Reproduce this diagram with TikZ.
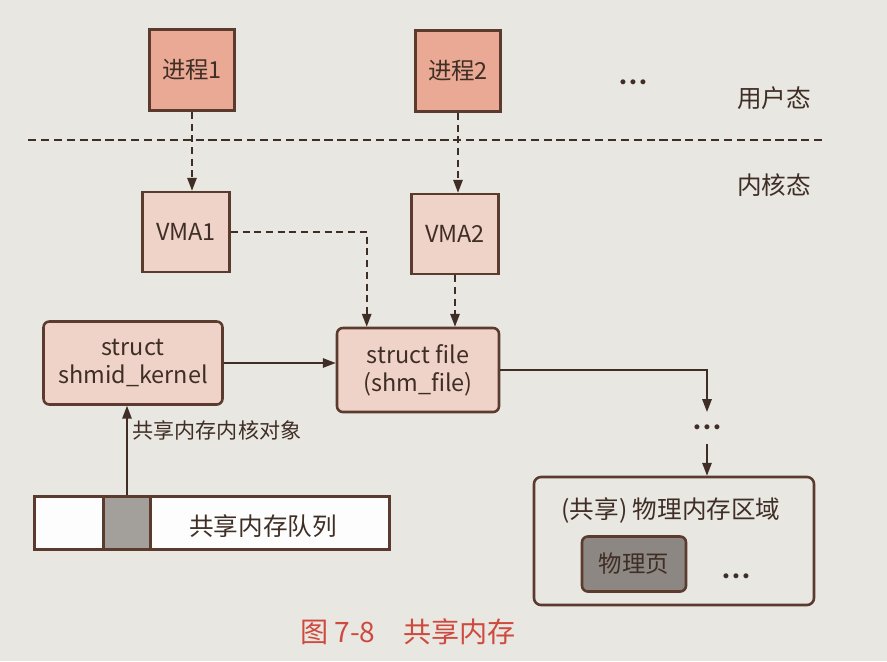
\documentclass[tikz,border=0pt]{standalone}
\usepackage{fontspec}
\newfontfamily\cjk{Noto Sans CJK SC}
\usetikzlibrary{arrows.meta}
\definecolor{paper}{HTML}{E9E7E2}
\definecolor{procfill}{HTML}{E9A994}
\definecolor{vmafill}{HTML}{EFD3C9}
\definecolor{edge}{HTML}{5A3B2E}
\definecolor{ink}{HTML}{3F2E25}
\definecolor{pagefill}{HTML}{8C8782}
\definecolor{capred}{HTML}{CF4A3E}
\newcommand{\hdots}{{\fontsize{11}{11}\selectfont$\bullet\mkern1mu\bullet\mkern1mu\bullet$}}

\begin{document}
\begin{tikzpicture}[x=0.03cm,y=-0.03cm]
\tikzset{lbl/.style={font=\cjk\fontsize{20}{24}\selectfont,text=ink,align=center,inner sep=0pt},
procbox/.style={lbl,draw=edge,line width=2.2pt,fill=procfill,minimum width=2.55cm,minimum height=2.43cm},
vmabox/.style={lbl,draw=edge,line width=2.2pt,fill=vmafill,minimum width=2.61cm,minimum height=2.4cm},
structbox/.style={lbl,draw=edge,line width=2.2pt,fill=vmafill,rounded corners=5pt},
dasharrow/.style={draw=ink,line width=1.5pt,dash pattern=on 6pt off 4pt,-{Triangle[length=11pt,width=8pt]}},
solidarrow/.style={draw=ink,line width=1.5pt,-{Triangle[length=11pt,width=8pt]}}}
\fill[paper] (0,0) rectangle (887,661);
\useasboundingbox (0,0) rectangle (887,661);

\foreach \i/\px/\vx/\py/\vy in {1/192/186/70/232,2/458/455/71/234}{%
	\node[procbox] (p\i) at (\px,\py) {进程\i};
	\node[vmabox] (vma\i) at (\vx,\vy) {VMA\i};
	\draw[dasharrow] (p\i.south) -- (p\i.south |- vma\i.north);
}%
\node[lbl] (udots) at (633,83) {\hdots};
\node[lbl,font=\cjk\fontsize{21}{24}\selectfont] (user) at (774,98) {用户态};
\node[lbl,font=\cjk\fontsize{21}{24}\selectfont] (kern) at (774,185) {内核态};
\draw[draw=ink,line width=1.2pt,dash pattern=on 7pt off 4pt] (28,140) -- (825,140);

\node[structbox,minimum width=5.37cm,minimum height=2.49cm] (shmid) at (133,363) {struct\\shmid\_kernel};
\node[structbox,minimum width=4.86cm,minimum height=2.52cm] (file) at (418,370) {struct file\\(shm\_file)};
\node[lbl,inner ysep=11pt] (fdots) at (707,428) {\hdots};
\node[draw=edge,line width=2.2pt,fill=paper,rounded corners=6pt,minimum width=8.4cm,minimum height=3.84cm] (region) at (674,541) {};
\node[lbl,font=\cjk\fontsize{21}{24}\selectfont] (rtitle) at (671,510) {(共享) 物理内存区域};
\node[structbox,fill=pagefill,minimum width=3.12cm,minimum height=1.65cm] (page) at (634,564) {物理页};
\node[lbl] (rdots) at (736,577) {\hdots};

\node[draw=edge,line width=2pt,fill=white!92!paper,minimum width=10.65cm,minimum height=1.59cm,inner sep=0pt] (queue) at (212,523) {};
\node[draw=edge,line width=2pt,fill=pagefill!80!white,minimum width=1.41cm,minimum height=1.59cm,inner sep=0pt] (cell) at (127,523) {};
\node[lbl,font=\cjk\fontsize{21}{24}\selectfont] (qtext) at (263,526) {共享内存队列};

\draw[dasharrow] (vma1.east) -| ([xshift=0.93cm]file.north west);
\draw[dasharrow] (vma2.south) -- (vma2.south |- file.north);
\draw[solidarrow] (shmid.east) -- (shmid.east -| file.west);
\draw[solidarrow] (file.east) -| (fdots.north);
\draw[solidarrow] (fdots.south) -- (fdots.south |- region.north);
\draw[solidarrow] (cell.north) -- (cell.north |- shmid.south)
	node[pos=0.73,right=4pt,lbl,font=\cjk\fontsize{18}{21}\selectfont] (objlbl) {共享内存内核对象};

\node[lbl,text=capred,font=\cjk\fontsize{24}{28}\selectfont] (cap) at (408,632) {图 7-8\quad 共享内存};
\end{tikzpicture}
\end{document}
